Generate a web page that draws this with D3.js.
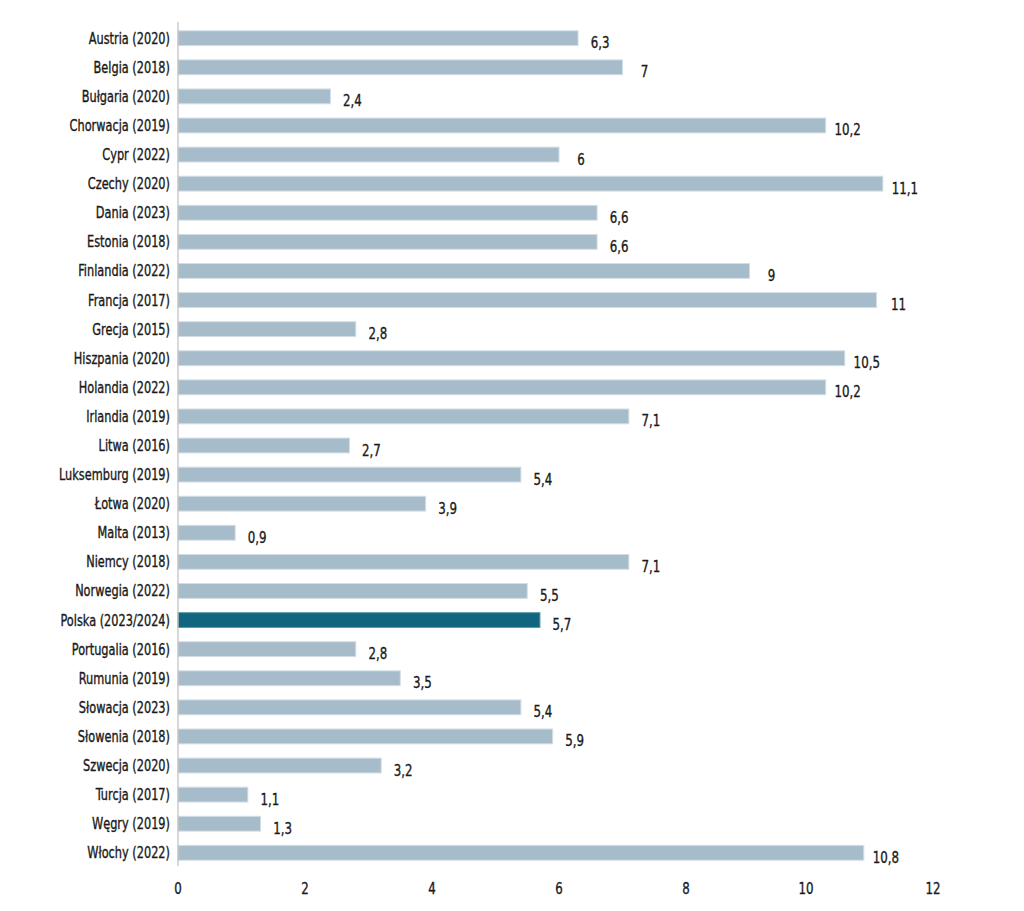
<!DOCTYPE html>
<html>
<head>
<meta charset="utf-8">
<script src="https://cdn.jsdelivr.net/npm/d3@7"></script>
<style>
  body { margin: 0; background: #fff; }
  text { font-family: "DejaVu Sans Condensed", "DejaVu Sans", sans-serif; font-stretch: condensed; fill: #1a1a1a; stroke: #1a1a1a; stroke-width: 0.35px; }
</style>
</head>
<body>
<div id="main"></div>
<script>
var countries = ['Austria (2020)', 'Belgia (2018)', 'Bułgaria (2020)', 'Chorwacja (2019)', 'Cypr (2022)',
  'Czechy (2020)', 'Dania (2023)', 'Estonia (2018)', 'Finlandia (2022)', 'Francja (2017)',
  'Grecja (2015)', 'Hiszpania (2020)', 'Holandia (2022)', 'Irlandia (2019)', 'Litwa (2016)',
  'Luksemburg (2019)', 'Łotwa (2020)', 'Malta (2013)', 'Niemcy (2018)', 'Norwegia (2022)',
  'Polska (2023/2024)', 'Portugalia (2016)', 'Rumunia (2019)', 'Słowacja (2023)', 'Słowenia (2018)',
  'Szwecja (2020)', 'Turcja (2017)', 'Węgry (2019)', 'Włochy (2022)'];
var values = [6.3, 7, 2.4, 10.2, 6, 11.1, 6.6, 6.6, 9, 11, 2.8, 10.5, 10.2, 7.1, 2.7,
  5.4, 3.9, 0.9, 7.1, 5.5, 5.7, 2.8, 3.5, 5.4, 5.9, 3.2, 1.1, 1.3, 10.8];
var ticks = [0, 2, 4, 6, 8, 10, 12];
var highlight = 'Polska (2023/2024)';

var data = countries.map(function(c, i) { return { name: c, value: values[i] }; });

var width = 1024, height = 911;
var x = d3.scaleLinear().domain([0, 12]).range([178, 940]);
var y = d3.scaleBand().domain(countries).range([23.5, 867.5]).paddingInner(0.49).paddingOuter(0.25);

var svg = d3.select('#main').append('svg')
  .attr('width', width)
  .attr('height', height);

svg.selectAll('rect.bar')
  .data(data)
  .enter()
  .append('rect')
  .attr('class', 'bar')
  .attr('x', x(0))
  .attr('y', function(d) { return y(d.name); })
  .attr('width', function(d) { return x(d.value) - x(0); })
  .attr('height', y.bandwidth())
  .attr('fill', function(d) { return d.name === highlight ? '#12657e' : '#a6bccb'; })
  .attr('stroke', function(d) { return d.name === highlight ? '#5e98aa' : '#d2dee6'; })
  .attr('stroke-width', 1);

// condensed look: squeeze text horizontally
svg.selectAll('text.val')
  .data(data)
  .enter()
  .append('text')
  .attr('class', 'val')
  .attr('transform', function(d) {
    return 'translate(' + (x(d.value) + 22) + ',' + (y(d.name) + y.bandwidth() / 2 + 10) + ') scale(0.82,1)';
  })
  .attr('text-anchor', 'middle')
  .attr('font-size', 16)
  .text(function(d) { return String(d.value).replace('.', ','); });

svg.selectAll('text.cat')
  .data(data)
  .enter()
  .append('text')
  .attr('class', 'cat')
  .attr('transform', function(d) {
    return 'translate(170,' + (y(d.name) + y.bandwidth() / 2 + 5.5) + ') scale(0.84,1)';
  })
  .attr('text-anchor', 'end')
  .attr('font-size', 15)
  .text(function(d) { return d.name; });

svg.append('line')
  .attr('x1', x(0)).attr('x2', x(0))
  .attr('y1', 22).attr('y2', 866)
  .attr('stroke', '#bfbfbf')
  .attr('stroke-width', 1.2);

svg.selectAll('text.tick')
  .data(ticks)
  .enter()
  .append('text')
  .attr('class', 'tick')
  .attr('transform', function(d) {
    return 'translate(' + (x(d) - (d >= 10 ? 7 : 0)) + ',894) scale(0.82,1)';
  })
  .attr('text-anchor', 'middle')
  .attr('font-size', 16)
  .text(function(d) { return d; });
</script>
</body>
</html>
